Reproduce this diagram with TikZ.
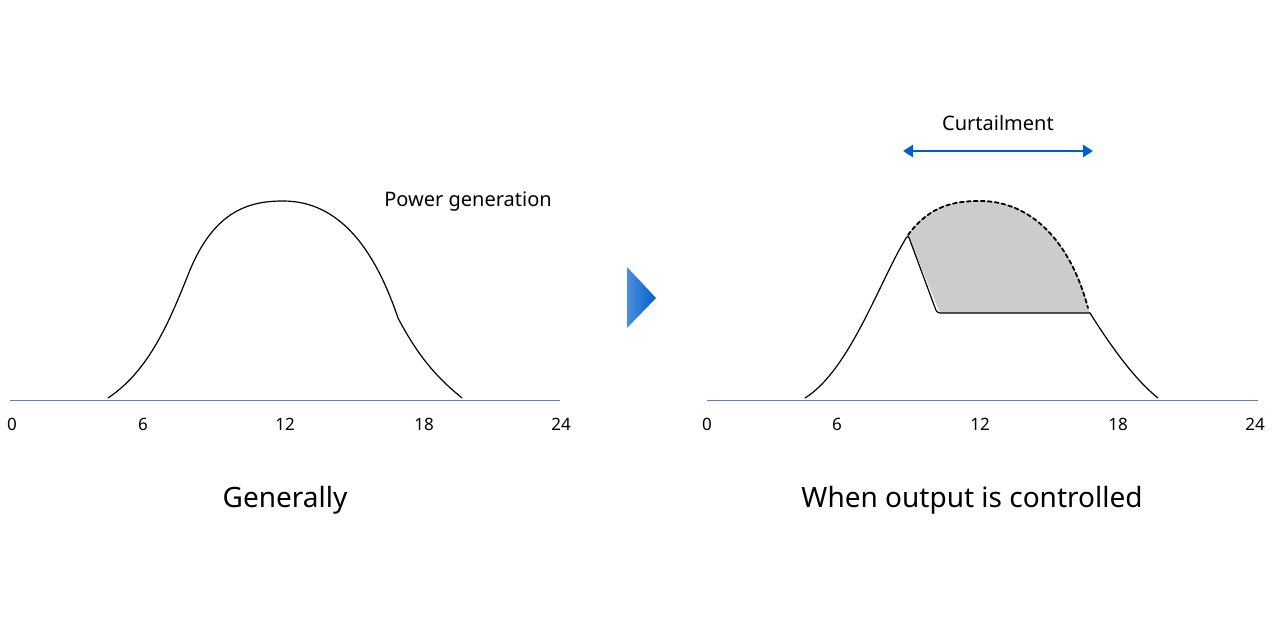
\documentclass[tikz,border=0pt]{standalone}
\usepackage{fontspec}
\setmainfont{Noto Sans}
\usetikzlibrary{arrows.meta}
\definecolor{axisblue}{RGB}{90,130,200}
\definecolor{arrblue}{RGB}{0,95,205}
\tikzset{
  axisline/.style={axisblue,line width=1pt},
  curve/.style={black,line width=1.2pt,line cap=round,line join=round},
  ticklab/.style={font=\fontsize{17}{20}\selectfont,inner sep=0pt},
  biglab/.style={font=\fontsize{28}{32}\selectfont,inner sep=0pt}
}
\begin{document}
\begin{tikzpicture}[x=1pt,y=-1pt]
\useasboundingbox (0,0) rectangle (1280,631);
%left panel
\draw[axisline] (10,400) -- (560,400);
\foreach \h/\xx in {0/12,6/143,12/285,18/424,24/561}
  \node[ticklab] (l\h) at (\xx,424) {\h};
\draw[curve] (108,398) .. controls (150,370) and (170,320) .. (190,270)
  .. controls (215,210) and (250,201) .. (283,201)
  .. controls (340,201) and (375,250) .. (398,318)
  .. controls (420,360) and (440,380) .. (462,398);
\node[font=\fontsize{20}{24}\selectfont,inner sep=0pt] (power) at (468,202) {Power generation};
\node[biglab] (gen) at (285,500) {Generally};
%arrow between panels
\shade[left color=arrblue!70,right color=arrblue] (627,267) -- (656,298) -- (627,328) -- cycle;
%right panel
\fill[black!20] (908,235) .. controls (930,205) and (955,201) .. (980,201)
  .. controls (1030,201) and (1070,240) .. (1088,308) -- (1090,313) -- (940,313) -- cycle;
\draw[axisline] (707,400) -- (1258,400);
\foreach \h/\xx in {0/707,6/837,12/980,18/1118,24/1255}
  \node[ticklab] (r\h) at (\xx,424) {\h};
\draw[curve,rounded corners=3pt] (805,398) .. controls (850,370) and (880,280) .. (908,235)
  -- (937,313) -- (1090,313);
\draw[curve] (1090,313) .. controls (1110,345) and (1135,380) .. (1158,398);
\draw[curve,dash pattern=on 4pt off 3pt,line width=1.8pt] (908,235) .. controls (930,205) and (955,201) .. (980,201)
  .. controls (1030,201) and (1070,240) .. (1088,308);
\coordinate (cl) at (903,151);
\coordinate (cr) at (1093,151);
\draw[arrblue,line width=2.5pt,{Triangle[length=10pt,width=12pt]}-{Triangle[length=10pt,width=12pt]}] (cl) -- (cr);
\node[font=\fontsize{20}{24}\selectfont,inner sep=0pt] (curt) at (998,123) {Curtailment};
\node[biglab] (ctrl) at (972,500) {When output is controlled};
\end{tikzpicture}
\end{document}
